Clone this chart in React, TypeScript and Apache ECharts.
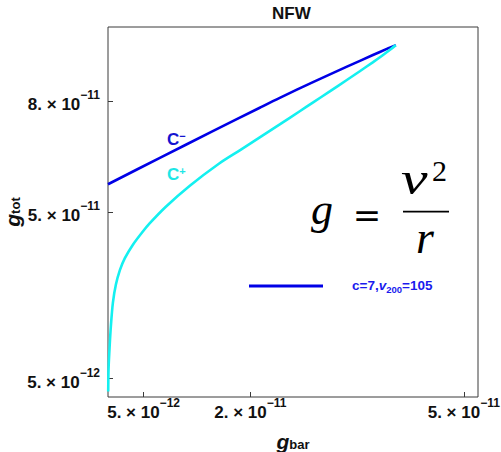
import React, { useEffect, useRef } from "react";
import * as echarts from "echarts";

// C− branch (blue)
const gBarMinus = [0, 7.29e-12, 14.73e-12, 21.33e-12, 24.14e-12, 28.81e-12, 33.58e-12, 37.23e-12, 39.19e-12, 40.45e-12];
const gTotMinus = [57.5e-12, 64.64e-12, 71.84e-12, 78.18e-12, 80.85e-12, 85.11e-12, 89.29e-12, 92.42e-12, 94.09e-12, 95.1e-12];
// C+ branch (cyan)
const gBarPlus = [0.03e-12, 0.07e-12, 0.2e-12, 0.41e-12, 0.69e-12, 1.11e-12, 1.67e-12, 2.37e-12, 3.5e-12, 4.76e-12, 5.88e-12, 8.13e-12, 11.5e-12, 15.58e-12, 18.52e-12, 21.33e-12, 24.14e-12, 26.95e-12, 28.78e-12, 31.17e-12, 33.51e-12, 35.39e-12, 37.21e-12, 38.61e-12, 39.59e-12, 40.45e-12];
const gTotPlus = [1.51e-12, 7.18e-12, 12.57e-12, 19.32e-12, 25.52e-12, 30.38e-12, 34.29e-12, 37.52e-12, 41.16e-12, 44.4e-12, 46.97e-12, 51.42e-12, 57.09e-12, 63.03e-12, 66.66e-12, 70.16e-12, 73.67e-12, 77.23e-12, 79.55e-12, 82.6e-12, 85.62e-12, 88.05e-12, 90.45e-12, 92.37e-12, 93.77e-12, 95.1e-12];

const xTicks = [5e-12, 2e-11, 5e-11];
const yTicks = [5e-12, 5e-11, 8e-11];
const xMin = 0;
const xMax = 5.2e-11;
const yMin = 0;
const yMax = 1e-10;

const titleText = "NFW";
const legendName = "c=7,v200=105";
const minusLabel = "C";
const plusLabel = "C";

const BLUE = "#0000e6";
const CYAN = "#14f0f0";
const SANS = "'Liberation Sans', Arial, sans-serif";
const SERIF = "'Liberation Serif', 'Times New Roman', serif";

function sci(v: number) {
  const e = Math.floor(Math.log10(v) + 1e-9);
  const m = Math.round(v / Math.pow(10, e));
  return `{m|${m}. × 10}{s|−${-e}}`;
}

const tickRich = {
  m: { fontSize: 17, fontWeight: "bold", fontFamily: SANS, color: "#111", lineHeight: 24, verticalAlign: "bottom" },
  s: { fontSize: 12, fontWeight: "bold", fontFamily: SANS, color: "#111", lineHeight: 14, verticalAlign: "top" },
};

const nameRich = {
  g: { fontSize: 21, fontStyle: "italic", fontWeight: "bold", fontFamily: SANS, color: "#111", lineHeight: 20, verticalAlign: "top" },
  s: { fontSize: 13, fontWeight: "bold", fontFamily: SANS, color: "#111", lineHeight: 14, verticalAlign: "bottom" },
};

export default function App() {
  const ref = useRef<HTMLDivElement>(null);
  useEffect(() => {
    if (!ref.current) return;
    const chart = echarts.init(ref.current, null, { renderer: "svg" });
    const option: any = {
      animation: false,
      backgroundColor: "#fff",
      title: {
        text: titleText,
        left: 272,
        top: 5,
        padding: 0,
        textStyle: { fontSize: 17, fontWeight: "bold", fontFamily: SANS, color: "#111" },
      },
      grid: {
        left: 108,
        right: 23,
        top: 27,
        bottom: 55,
        outerBoundsMode: "none",
        containLabel: false,
        show: true,
        borderColor: "#3a3a3a",
        borderWidth: 1,
        backgroundColor: "transparent",
      },
      legend: {
        data: [legendName],
        left: 249,
        top: 278,
        padding: 0,
        icon: "rect",
        itemWidth: 74,
        itemHeight: 3,
        formatter: () => "{a|c=7,}{v|v}{b|200}{a|=105}",
        textStyle: {
          padding: [0, 0, 0, 24],
          rich: {
            a: { fontSize: 13.5, fontWeight: "bold", fontFamily: SANS, color: "#1a1aee", lineHeight: 16, verticalAlign: "top" },
            v: { fontSize: 13.5, fontWeight: "bold", fontStyle: "italic", fontFamily: SANS, color: "#1a1aee", lineHeight: 16, verticalAlign: "top" },
            b: { fontSize: 9.5, fontWeight: "bold", fontFamily: SANS, color: "#1a1aee", lineHeight: 12, verticalAlign: "bottom" },
          },
        },
      },
      xAxis: {
        type: "value",
        min: xMin,
        max: xMax,
        name: "{g|g}{s|bar}",
        nameLocation: "middle",
        nameGap: 34,
        nameMoveOverlap: false,
        nameTextStyle: { rich: nameRich },
        axisLine: { show: false },
        splitLine: { show: false },
        axisTick: { show: true, inside: true, length: 5, customValues: xTicks, lineStyle: { color: "#3a3a3a" } },
        axisLabel: { customValues: xTicks, margin: 0, formatter: (v: number) => sci(v), rich: tickRich },
      },
      yAxis: {
        type: "value",
        min: yMin,
        max: yMax,
        name: "{g|g}{s|tot}",
        nameLocation: "middle",
        nameGap: 86,
        nameMoveOverlap: false,
        nameTextStyle: { rich: nameRich },
        axisLine: { show: false },
        splitLine: { show: false },
        axisTick: { show: true, inside: true, length: 5, customValues: yTicks, lineStyle: { color: "#3a3a3a" } },
        axisLabel: { customValues: yTicks, margin: 8, formatter: (v: number) => sci(v), rich: tickRich },
      },
      series: [
        {
          name: legendName,
          type: "line",
          data: gBarMinus.map((x, i) => [x, gTotMinus[i]]),
          showSymbol: false,
          smooth: 0.3,
          color: BLUE,
          lineStyle: { width: 2.6, color: BLUE },
          clip: true,
        },
        {
          name: "C+",
          type: "line",
          data: gBarPlus.map((x, i) => [x, gTotPlus[i]]),
          showSymbol: false,
          smooth: 0.3,
          color: CYAN,
          lineStyle: { width: 2.6, color: CYAN },
          clip: true,
        },
      ],
      graphic: [
        {
          type: "text",
          left: 167,
          top: 130,
          style: {
            text: `{c|${minusLabel}}{s|−}`,
            rich: {
              c: { fontSize: 17, fontWeight: "bold", fontFamily: SANS, fill: "#1414d0", lineHeight: 18, verticalAlign: "bottom" },
              s: { fontSize: 11, fontWeight: "bold", fontFamily: SANS, fill: "#1414d0", lineHeight: 12, verticalAlign: "top" },
            },
          },
        },
        {
          type: "text",
          left: 167,
          top: 165,
          style: {
            text: `{c|${plusLabel}}{s|+}`,
            rich: {
              c: { fontSize: 17, fontWeight: "bold", fontFamily: SANS, fill: "#1ee6e6", lineHeight: 18, verticalAlign: "bottom" },
              s: { fontSize: 11, fontWeight: "bold", fontFamily: SANS, fill: "#1ee6e6", lineHeight: 12, verticalAlign: "top" },
            },
          },
        },
        {
          type: "text",
          x: 311,
          y: 209,
          style: { text: "g", font: `italic 44px ${SERIF}`, fill: "#000", align: "left", verticalAlign: "middle" },
        },
        {
          type: "text",
          x: 367,
          y: 215,
          style: { text: "=", font: `34px 'DejaVu Serif', serif`, fill: "#000", align: "center", verticalAlign: "middle" },
        },
        {
          type: "text",
          x: 401,
          y: 178,
          scaleX: 1.3,
          style: { text: "v", font: `italic 46px ${SERIF}`, fill: "#000", align: "left", verticalAlign: "middle" },
        },
        {
          type: "text",
          x: 432,
          y: 170,
          style: { text: "2", font: `30px ${SERIF}`, fill: "#000", align: "left", verticalAlign: "middle" },
        },
        {
          type: "line",
          shape: { x1: 403, y1: 211.7, x2: 449, y2: 211.7 },
          style: { stroke: "#000", lineWidth: 1.8 },
        },
        {
          type: "text",
          x: 416,
          y: 237,
          style: { text: "r", font: `italic 46px ${SERIF}`, fill: "#000", align: "left", verticalAlign: "middle" },
        },
      ],
    };
    chart.setOption(option);
    return () => chart.dispose();
  }, []);
  return <div ref={ref} style={{ width: 501, height: 452, position: "absolute", left: 0, top: 0 }} />;
}
